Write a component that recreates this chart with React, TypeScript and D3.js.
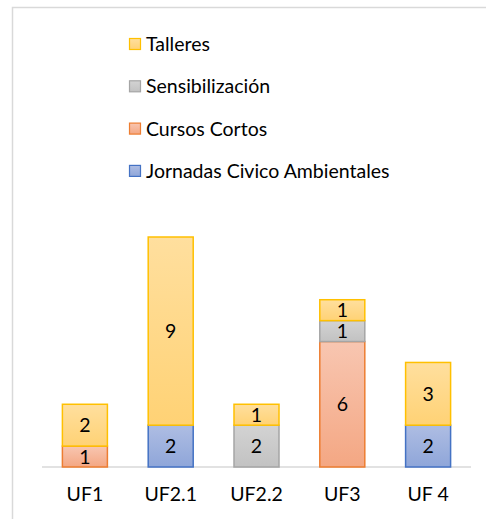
import React, { useEffect, useRef } from 'react';
import * as d3 from 'd3';

const categories = ['UF1', 'UF2.1', 'UF2.2', 'UF3', 'UF 4'];
const seriesNames = ['Jornadas Civico Ambientales', 'Cursos Cortos', 'Sensibilización', 'Talleres'];
const jornadas = [0, 2, 0, 0, 2];
const cursos = [1, 0, 0, 6, 0];
const sensibilizacion = [0, 0, 2, 1, 0];
const talleres = [2, 9, 1, 1, 3];

// stroke, gradient top, gradient bottom
const styles = [
  { stroke: '#4472C4', top: '#AEBDE3', bottom: '#8FA6D9' },
  { stroke: '#ED7D31', top: '#F8C6B1', bottom: '#F4A783' },
  { stroke: '#A5A5A5', top: '#D3D3D3', bottom: '#C2C2C2' },
  { stroke: '#FFC000', top: '#FFDF9E', bottom: '#FFD275' },
];

const W = 486;
const H = 519;
const FONT = 'Lato, "Open Sans", sans-serif';
const FS = 19.5;

export default function App() {
  const svgRef = useRef<SVGSVGElement>(null);

  useEffect(() => {
    if (!svgRef.current) return;
    const svg = d3.select(svgRef.current);
    svg.selectAll('*').remove();

    const values = [jornadas, cursos, sensibilizacion, talleres];
    const rows = categories.map((c, i) => {
      const r: any = { cat: c };
      seriesNames.forEach((s, k) => (r[s] = values[k][i]));
      return r;
    });
    const stacked = d3.stack().keys(seriesNames)(rows);

    const x = d3.scaleBand().domain(categories).range([42, 471]).padding(0);
    const y = d3.scaleLinear().domain([0, 11]).range([467, 237]);
    const barW = 45;

    const defs = svg.append('defs');
    styles.forEach((s, k) => {
      const g = defs.append('linearGradient')
        .attr('id', `grad${k}`)
        .attr('x1', 0).attr('y1', 0).attr('x2', 0).attr('y2', 1);
      g.append('stop').attr('offset', '0%').attr('stop-color', s.top);
      g.append('stop').attr('offset', '100%').attr('stop-color', s.bottom);
    });

    // chart frame
    svg.append('rect')
      .attr('x', 12.5).attr('y', 7.5)
      .attr('width', W).attr('height', H)
      .attr('fill', '#fff')
      .attr('stroke', '#D9D9D9')
      .attr('stroke-width', 1.5);

    // baseline
    svg.append('line')
      .attr('x1', 42).attr('x2', 471)
      .attr('y1', y(0)).attr('y2', y(0))
      .attr('stroke', '#D9D9D9')
      .attr('stroke-width', 1.5);

    stacked.forEach((layer, k) => {
      const g = svg.append('g');
      const segs = layer.filter(d => d[1] - d[0] > 0);
      g.selectAll('rect')
        .data(segs)
        .enter()
        .append('rect')
        .attr('x', d => x(d.data.cat as string)! + x.bandwidth() / 2 - barW / 2)
        .attr('y', d => y(d[1]))
        .attr('width', barW)
        .attr('height', d => y(d[0]) - y(d[1]))
        .attr('fill', `url(#grad${k})`)
        .attr('stroke', styles[k].stroke)
        .attr('stroke-width', 1.5);
      g.selectAll('text')
        .data(segs)
        .enter()
        .append('text')
        .attr('x', d => x(d.data.cat as string)! + x.bandwidth() / 2)
        .attr('y', d => (y(d[0]) + y(d[1])) / 2)
        .attr('dy', '0.36em')
        .attr('text-anchor', 'middle')
        .attr('font-family', FONT)
        .attr('font-size', FS)
        .attr('fill', '#000')
        .text(d => d[1] - d[0]);
    });

    // category labels
    svg.append('g')
      .selectAll('text')
      .data(categories)
      .enter()
      .append('text')
      .attr('x', d => x(d)! + x.bandwidth() / 2)
      .attr('y', 494)
      .attr('dy', '0.36em')
      .attr('text-anchor', 'middle')
      .attr('font-family', FONT)
      .attr('font-size', FS)
      .attr('fill', '#000')
      .text(d => d);

    // legend, Talleres first
    const legendOrder = [3, 2, 1, 0];
    const leg = svg.append('g');
    legendOrder.forEach((k, i) => {
      const cy = 44 + i * 42.3;
      leg.append('rect')
        .attr('x', 129.5).attr('y', cy - 5.5)
        .attr('width', 11).attr('height', 11)
        .attr('fill', `url(#grad${k})`)
        .attr('stroke', styles[k].stroke)
        .attr('stroke-width', 1.2);
      leg.append('text')
        .attr('x', 146)
        .attr('y', cy)
        .attr('dy', '0.36em')
        .attr('font-family', FONT)
        .attr('font-size', FS)
        .attr('fill', '#000')
        .text(seriesNames[k]);
    });
  }, []);

  return (
    <svg
      ref={svgRef}
      width={W}
      height={H}
      style={{ position: 'absolute', left: 0, top: 0, display: 'block', background: '#fff' }}
    />
  );
}
